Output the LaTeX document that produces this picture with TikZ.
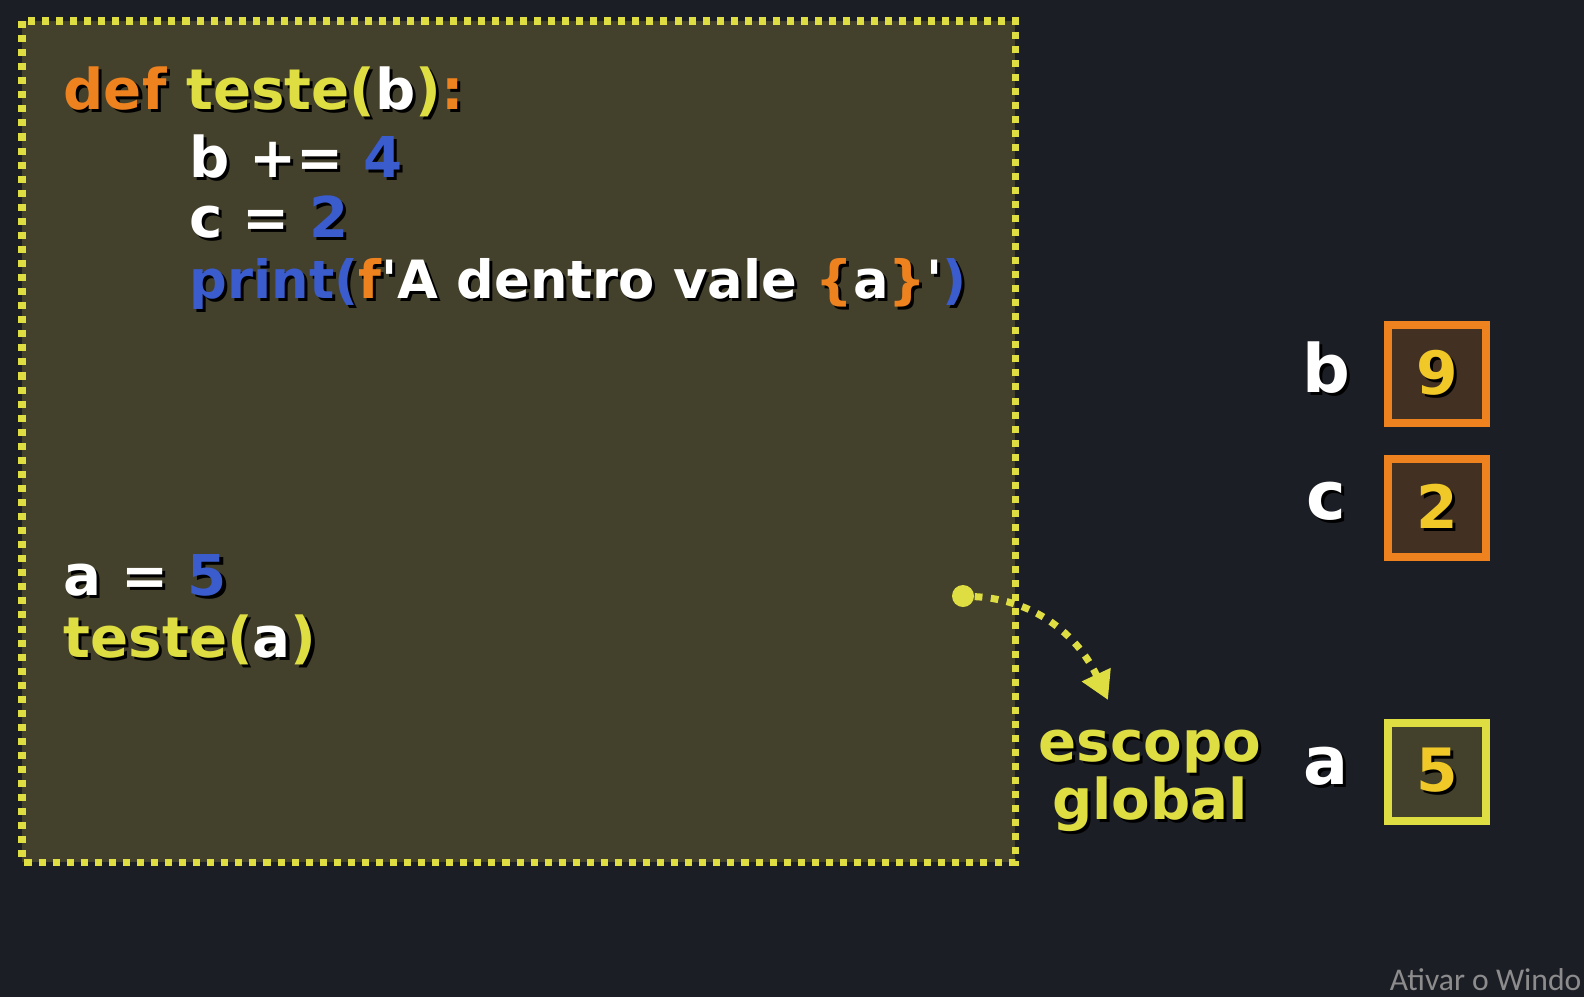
\documentclass[tikz,border=0pt]{standalone}
\usepackage{fontspec}
\setmainfont{DejaVu Sans}
\newfontfamily\wmfont{Carlito}
\usepackage{tikz}
\usetikzlibrary{positioning,arrows.meta}
\definecolor{bgcolor}{RGB}{28,30,38}
\definecolor{scopefill}{RGB}{67,64,44}
\definecolor{cdyellow}{RGB}{222,222,66}
\definecolor{cdorange}{RGB}{238,130,30}
\definecolor{cdblue}{RGB}{58,92,204}
\definecolor{cdwhite}{RGB}{255,255,255}
\definecolor{boxbrown}{RGB}{66,48,34}
\definecolor{valyellow}{RGB}{240,200,40}
\definecolor{wmgray}{RGB}{140,140,140}
% black drop shadow behind the pixel-style text
\newcommand{\shd}[1]{\leavevmode\rlap{\kern0.9pt\raisebox{-0.9pt}{\colorlet{cdyellow}{black}\colorlet{cdorange}{black}\colorlet{cdblue}{black}\colorlet{cdwhite}{black}\colorlet{valyellow}{black}\color{black}#1}}#1}

\begin{document}
\begin{tikzpicture}[x=0.1mm, y=-0.1mm,
  code/.style={anchor=base west, inner sep=0pt, font=\fontsize{16}{19}\selectfont\bfseries, text=cdwhite},
  varname/.style={inner sep=0pt, font=\fontsize{19}{23}\selectfont\bfseries, text=cdwhite},
  valbox/.style={draw, line width=0.8mm, minimum size=9.8mm, inner sep=0pt, font=\fontsize{17}{20}\selectfont\bfseries, text=valyellow},
  scopelbl/.style={align=center, inner sep=0pt, font=\fontsize{16}{16.5}\selectfont\bfseries, text=cdyellow},
  dotarrow/.style={cdyellow, line width=2pt, dash pattern=on 2.2pt off 2.4pt, -{Triangle[length=2.8mm, width=3mm]}},
]
\useasboundingbox (0,0) rectangle (1584,997);
\clip (0,0) rectangle (1584,997);
\fill[bgcolor] (0,0) rectangle (1584,997);

% function scope box
\draw[cdyellow, fill=scopefill, line width=2pt, dash pattern=on 2pt off 2pt] (22,21) rectangle (1015,862);

% code
\node[code] (l_def) at (63,109) {\shd{\textcolor{cdorange}{def} \textcolor{cdyellow}{teste(}b\textcolor{cdyellow}{)}\textcolor{cdorange}{:}}};
\node[code] (l_b) at (189,177) {\shd{b += \textcolor{cdblue}{4}}};
\node[code] (l_c) at (189,237) {\shd{c = \textcolor{cdblue}{2}}};
\node[code, font=\fontsize{15}{18}\selectfont\bfseries] (l_print) at (189,298) {\shd{\textcolor{cdblue}{print(}\textcolor{cdorange}{f}\textquotesingle A dentro vale \textcolor{cdorange}{\{}a\textcolor{cdorange}{\}}\textquotesingle\textcolor{cdblue}{)}}};
\node[code] (l_a) at (63,595) {\shd{a = \textcolor{cdblue}{5}}};
\node[code] (l_call) at (63,657) {\shd{\textcolor{cdyellow}{teste(}a\textcolor{cdyellow}{)}}};

% global scope pointer
\node[circle, fill=cdyellow, minimum size=2.2mm, inner sep=0pt] (dot) at (963,596) {};
\coordinate (tip) at (1108,700);
\node[scopelbl] (lbl_scope) at (1150,782) {\shd{escopo}\\\shd{global}};
\draw[dotarrow] (dot) to[out=-3, in=115] (tip);

% variables
\node[valbox, draw=cdorange, fill=boxbrown] (val_b) at (1437,374) {\shd{9}};
\node[valbox, draw=cdorange, fill=boxbrown] (val_c) at (1437,508) {\shd{2}};
\node[valbox, draw=cdyellow, fill=scopefill] (val_a) at (1437,772) {\shd{5}};
\node[varname] (lbl_b) at (1326,369) {\shd{b}};
\node[varname] (lbl_c) at (1326,503) {\shd{c}};
\node[varname] (lbl_a) at (1326,768) {\shd{a}};

\node[anchor=base east, inner sep=0pt, font=\wmfont\fontsize{9}{11}\selectfont, text=wmgray] (wm) at (1582,990) {Ativar o Windo};
\end{tikzpicture}
\end{document}
